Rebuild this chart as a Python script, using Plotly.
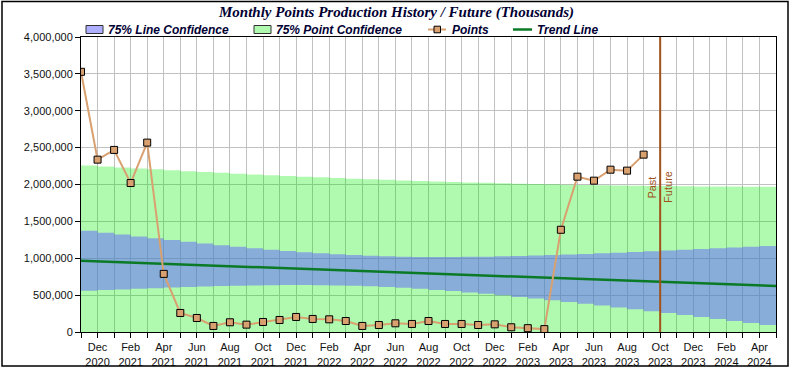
import numpy as np
import plotly.graph_objects as go

# ---- data ----
month_names = ["Jan", "Feb", "Mar", "Apr", "May", "Jun",
               "Jul", "Aug", "Sep", "Oct", "Nov", "Dec"]
# axis months: Nov 2020 .. May 2024
months = [f"{month_names[(10 + i) % 12]} {2020 + (10 + i) // 12}" for i in range(43)]

# monthly points, Nov 2020 .. Sep 2023
points = [3528000, 2337000, 2469000, 2020000, 2568000, 788000, 258000,
          190000, 82000, 132000, 100000, 136000, 163000, 204000, 177000,
          172000, 149000, 82000, 95000, 118000, 109000, 149000, 109000,
          109000, 95000, 104000, 64000, 52000, 39000, 1386000, 2106000,
          2052000, 2201000, 2188000, 2405000]
point_months = months[:len(points)]

tick_text = [m.replace(" ", "<br>") if i % 2 == 1 else "" for i, m in enumerate(months)]
future_month = "Oct 2023"
confidence_z = 1.1503  # 75% two-sided
legend_names = ["75% Line Confidence", "75% Point Confidence", "Points", "Trend Line"]

# ---- regression trend + confidence bands derived from the points ----
k = np.arange(len(points), dtype=float)
yv = np.array(points, dtype=float)
slope, intercept = np.polyfit(k, yv, 1)
n = len(k)
xbar = k.mean()
sxx = ((k - xbar) ** 2).sum()
s = np.sqrt(((yv - (intercept + slope * k)) ** 2).sum() / (n - 2))
kk = np.arange(len(months), dtype=float)
trend = intercept + slope * kk
line_hw = confidence_z * s * np.sqrt(1 / n + (kk - xbar) ** 2 / sxx)
point_hw = confidence_z * s * np.sqrt(1 + 1 / n + (kk - xbar) ** 2 / sxx)

GREEN = "rgba(0,240,0,0.31)"
BLUE = "rgba(96,96,255,0.5)"
BROWN = "#a0521a"
TAN = "#d9a070"
TREND = "#0b7a26"
TEXT = "#000033"

# plot area in pixels (for placing frame/legend decorations)
L, R, T, B = 81, 776, 37, 332
def px(x):
    return (x - L) / (R - L)
def py(y):
    return (B - y) / (B - T)

fig = go.Figure()
# point confidence band
fig.add_trace(go.Scatter(x=months, y=trend - point_hw, mode="lines",
                         line=dict(width=0, shape="hv"), showlegend=False,
                         hoverinfo="skip"))
fig.add_trace(go.Scatter(x=months, y=trend + point_hw, mode="lines",
                         line=dict(width=0, shape="hv"), fill="tonexty",
                         fillcolor=GREEN, name=legend_names[1], hoverinfo="skip"))
# line confidence band
fig.add_trace(go.Scatter(x=months, y=trend - line_hw, mode="lines",
                         line=dict(width=0, shape="hv"), showlegend=False,
                         hoverinfo="skip"))
fig.add_trace(go.Scatter(x=months, y=trend + line_hw, mode="lines",
                         line=dict(width=0, shape="hv"), fill="tonexty",
                         fillcolor=BLUE, name=legend_names[0], hoverinfo="skip"))
# trend line
fig.add_trace(go.Scatter(x=months, y=trend, mode="lines",
                         line=dict(color=TREND, width=2.5), name=legend_names[3]))
# points
fig.add_trace(go.Scatter(x=point_months, y=points, mode="lines+markers",
                         line=dict(color=TAN, width=2),
                         marker=dict(symbol="square", size=7, color=TAN,
                                     line=dict(color="#000000", width=1)),
                         name=legend_names[2]))

fi = months.index(future_month)
fig.add_shape(type="line", xref="x", yref="paper", x0=fi, x1=fi, y0=0, y1=1,
              line=dict(color=BROWN, width=2))
fig.add_annotation(x=fi, y=1960000, text="Past", textangle=-90, showarrow=False,
                   xshift=-8, font=dict(family="Liberation Sans", size=11, color=BROWN))
fig.add_annotation(x=fi, y=1970000, text="Future", textangle=-90, showarrow=False,
                   xshift=8, font=dict(family="Liberation Sans", size=11, color=BROWN))

# outer frame of the picture
fig.add_shape(type="rect", xref="paper", yref="paper",
              x0=px(2), x1=px(788), y0=py(366), y1=py(1.5),
              line=dict(color="#000000", width=1.5), layer="above")

# legend row (drawn as decorations to match the reference spacing)
ly = 29.5
fig.add_shape(type="rect", xref="paper", yref="paper", x0=px(86), x1=px(103),
              y0=py(33.5), y1=py(25.5), fillcolor=BLUE,
              line=dict(color="#303030", width=1), layer="above")
fig.add_shape(type="rect", xref="paper", yref="paper", x0=px(254), x1=px(271),
              y0=py(33.5), y1=py(25.5), fillcolor=GREEN,
              line=dict(color="#303030", width=1), layer="above")
fig.add_shape(type="line", xref="paper", yref="paper", x0=px(428), x1=px(446),
              y0=py(ly), y1=py(ly), line=dict(color=TAN, width=2), layer="above")
fig.add_shape(type="rect", xref="paper", yref="paper", x0=px(434), x1=px(440.5),
              y0=py(ly + 3.3), y1=py(ly - 3.3), fillcolor=TAN,
              line=dict(color="#000000", width=1), layer="above")
fig.add_shape(type="line", xref="paper", yref="paper", x0=px(513), x1=px(532),
              y0=py(ly), y1=py(ly), line=dict(color=TREND, width=2.5), layer="above")
for name, xpix in zip(legend_names, [106, 274, 450, 535]):
    fig.add_annotation(xref="paper", yref="paper", x=px(xpix), y=py(ly),
                       xanchor="left", yanchor="middle", text=name, showarrow=False,
                       font=dict(family="Liberation Sans", size=12, color=TEXT,
                                 weight="bold", style="italic"))

axis_font = dict(family="Liberation Sans", size=11, color="#111111")
fig.update_layout(
    width=793, height=368,
    margin=dict(l=L, r=793 - R, t=T, b=368 - B),
    paper_bgcolor="white", plot_bgcolor="white",
    showlegend=False,
    title=dict(text="Monthly Points Production History / Future (Thousands)",
               x=0.5, xref="container", xanchor="center",
               y=1 - 12 / 368, yref="container", yanchor="middle",
               font=dict(family="Liberation Serif", size=15, color=TEXT,
                         weight="bold", style="italic")),
    xaxis=dict(type="category", categoryorder="array", categoryarray=months,
               range=[0, len(months) - 1], tickmode="array", tickvals=months,
               ticktext=tick_text, ticks="outside", ticklen=5, tickcolor="black",
               showline=True, linecolor="black", linewidth=1, mirror=True,
               showgrid=True, gridcolor="#c0c0c0", gridwidth=1,
               tickfont=axis_font, zeroline=False, automargin=False),
    yaxis=dict(range=[0, 4000000], dtick=500000, tick0=0, tickformat=",",
               ticks="outside", ticklen=5, tickcolor="black",
               showline=True, linecolor="black", linewidth=1, mirror=True,
               showgrid=True, gridcolor="#c0c0c0", gridwidth=1,
               tickfont=axis_font, zeroline=False, automargin=False),
)

fig.write_html("out.html", config={"displayModeBar": False},
               post_script="document.body.style.margin='0';document.body.style.overflow='hidden';")
